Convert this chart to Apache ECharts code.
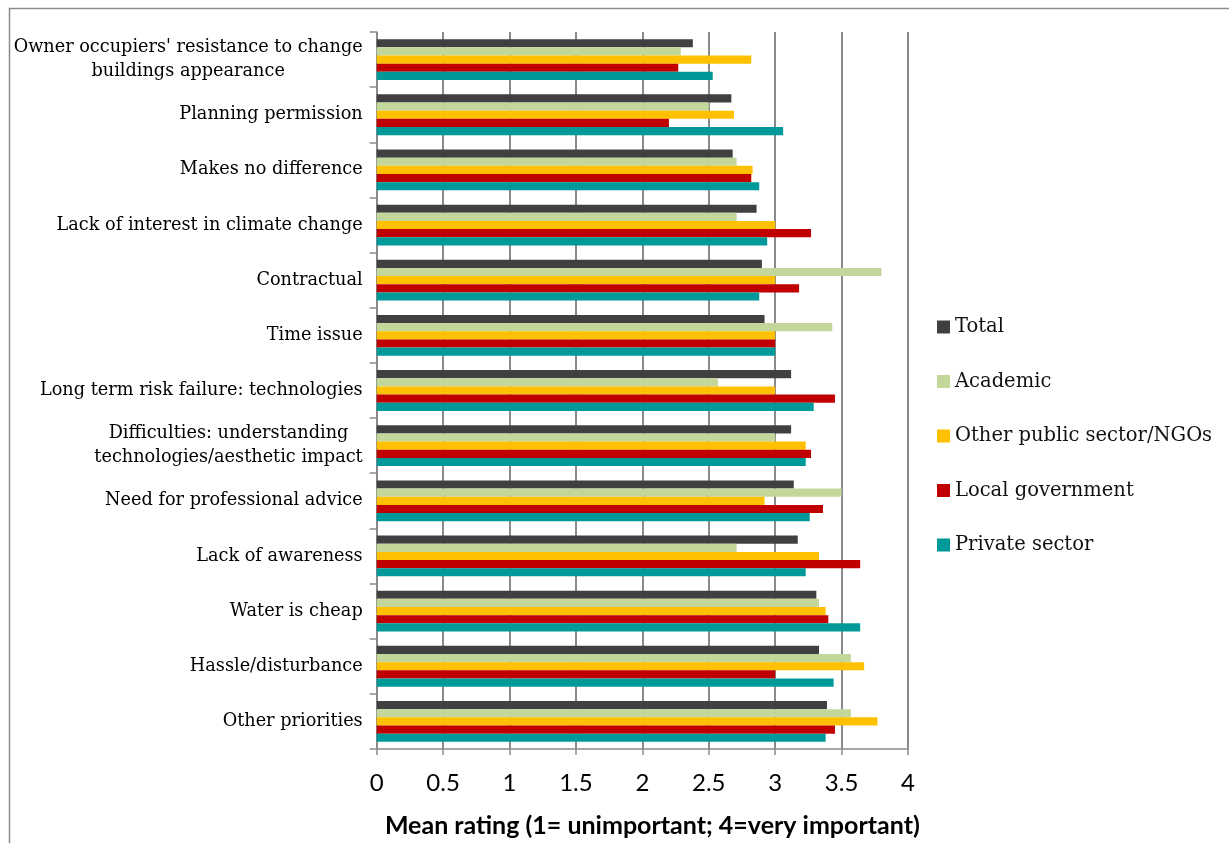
<!DOCTYPE html>
<html>
<head>
<meta charset="utf-8">
<title>Barriers – mean rating by sector</title>
<script src="https://cdn.jsdelivr.net/npm/echarts@6/dist/echarts.min.js"></script>
<style>
  html, body { margin: 0; padding: 0; background: #fff; }
  #chart { width: 1229px; height: 843px; }
</style>
</head>
<body>
<div id="chart"></div>
<script>
// Barriers, listed top to bottom
const categories = [
  "Owner occupiers' resistance to change\nbuildings appearance",
  "Planning permission",
  "Makes no difference",
  "Lack of interest in climate change",
  "Contractual",
  "Time issue",
  "Long term risk failure: technologies",
  "Difficulties: understanding\ntechnologies/aesthetic impact",
  "Need for professional advice",
  "Lack of awareness",
  "Water is cheap",
  "Hassle/disturbance",
  "Other priorities"
];

// Mean ratings per respondent group (same order as categories)
const total       = [2.38, 2.67, 2.68, 2.86, 2.90, 2.92, 3.12, 3.12, 3.14, 3.17, 3.31, 3.33, 3.39];
const academic    = [2.29, 2.50, 2.71, 2.71, 3.80, 3.43, 2.57, 3.00, 3.50, 2.71, 3.33, 3.57, 3.57];
const otherPublic = [2.82, 2.69, 2.83, 3.00, 3.00, 3.00, 3.00, 3.23, 2.92, 3.33, 3.38, 3.67, 3.77];
const localGov    = [2.27, 2.20, 2.82, 3.27, 3.18, 3.00, 3.45, 3.27, 3.36, 3.64, 3.40, 3.00, 3.45];
const privateSec  = [2.53, 3.06, 2.88, 2.94, 2.88, 3.00, 3.29, 3.23, 3.26, 3.23, 3.64, 3.44, 3.38];

const seriesNames = ["Total", "Academic", "Other public sector/NGOs", "Local government", "Private sector"];
const seriesColors = ["#404040", "#c4d79b", "#ffc000", "#c00000", "#009999"];
const seriesData = [total, academic, otherPublic, localGov, privateSec];

const xTicks = { min: 0, max: 4, interval: 0.5 };
const xTitle = "Mean rating (1= unimportant; 4=very important)";

const serif = "'DejaVu Serif', 'Liberation Serif', serif";
const sans = "Lato, 'Open Sans', sans-serif";

const chart = echarts.init(document.getElementById('chart'), null, { renderer: 'canvas' });

chart.setOption({
  backgroundColor: '#ffffff',
  animation: false,
  graphic: [{
    type: 'rect',
    shape: { x: 9.5, y: 8.5, width: 1300, height: 900 },
    style: { fill: 'none', stroke: '#8c8c8c', lineWidth: 1.5 },
    silent: true,
    z: -10
  }],
  legend: {
    orient: 'vertical',
    left: 937,
    top: 317,
    padding: 0,
    itemWidth: 13,
    itemHeight: 13,
    itemGap: 34.5,
    icon: 'rect',
    textStyle: { fontFamily: serif, fontSize: 19.5, color: '#111' },
    data: seriesNames
  },
  grid: {
    left: 376.7,
    right: 1229 - 908,
    top: 32,
    bottom: 843 - 752.7,
    containLabel: false
  },
  xAxis: {
    type: 'value',
    min: xTicks.min,
    max: xTicks.max,
    interval: xTicks.interval,
    name: xTitle,
    nameLocation: 'middle',
    nameGap: 64,
    nameTextStyle: { fontFamily: sans, fontWeight: 'bold', fontSize: 25, color: '#000', padding: [0, 0, 0, 20] },
    axisLine: { show: true, lineStyle: { color: '#8a8a8a', width: 1.5 } },
    axisTick: { show: true, length: 6, lineStyle: { color: '#8a8a8a', width: 1.5 } },
    axisLabel: { margin: 22, fontFamily: sans, fontSize: 24, color: '#000' },
    splitLine: { show: true, lineStyle: { color: '#8a8a8a', width: 2 } }
  },
  yAxis: {
    type: 'category',
    inverse: true,
    data: categories,
    axisLine: { show: true, lineStyle: { color: '#8a8a8a', width: 1.5 } },
    axisTick: { show: true, length: 7, lineStyle: { color: '#8a8a8a', width: 1.5 } },
    axisLabel: {
      margin: 14,
      fontFamily: serif,
      fontSize: 17.7,
      color: '#000',
      lineHeight: 24,
      formatter: v => v.split('\n').map(s => '{c|' + s + '}').join('\n'),
      rich: { c: { align: 'center', fontFamily: serif, fontSize: 17.7, lineHeight: 24, color: '#000' } }
    },
    splitLine: { show: false }
  },
  series: seriesNames.map((name, i) => ({
    name: name,
    type: 'bar',
    data: seriesData[i],
    barGap: '0%',
    barCategoryGap: '26%',
    itemStyle: { color: seriesColors[i] },
    z: 2
  }))
});
</script>
</body>
</html>
